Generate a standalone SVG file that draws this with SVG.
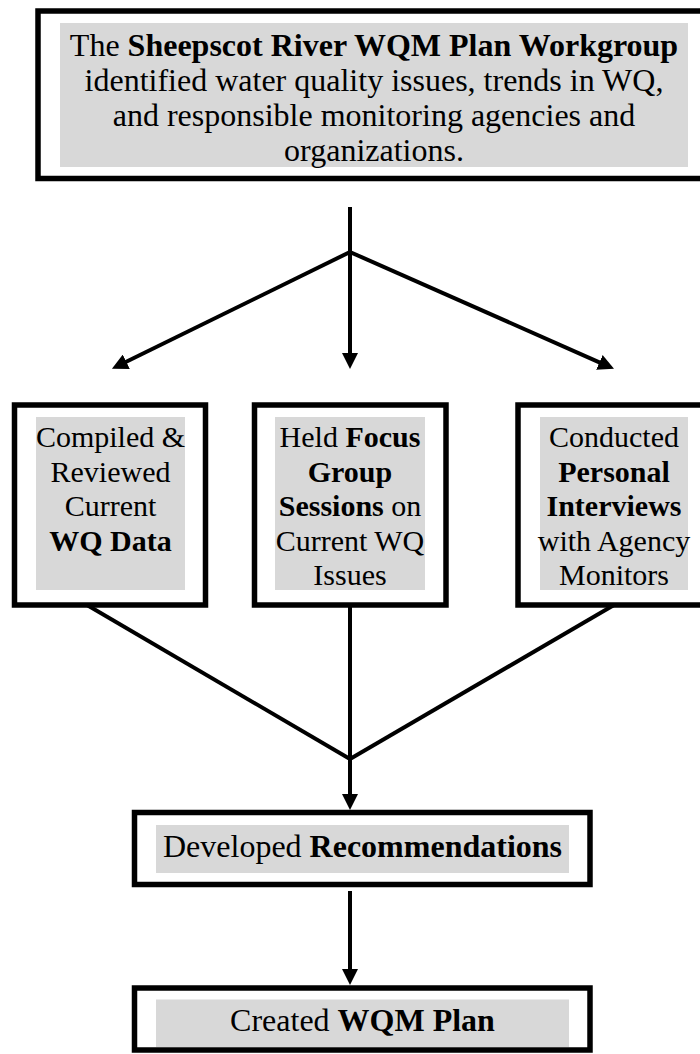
<svg xmlns="http://www.w3.org/2000/svg" width="700" height="1054" viewBox="0 0 700 1054">
<style>
.box{fill:#fff;stroke:#000;stroke-width:5.5}
.hl{fill:#d8d8d8}
.t{font-family:"Liberation Serif","Times New Roman",serif;fill:#000;text-anchor:middle}
.t32{font-size:32px}
.t30{font-size:30px}
.b{font-weight:bold}
.c{stroke:#000;stroke-width:4;fill:none}
</style>
<defs>
<marker id="ah" viewBox="0 0 16 16" refX="8" refY="8" markerWidth="16" markerHeight="16" markerUnits="userSpaceOnUse" orient="auto">
<path d="M0,0 L16,8 L0,16 z" fill="#000"/>
</marker>
</defs>
<rect width="700" height="1054" fill="#fff"/>
<g id="connectors">
<line class="c" x1="350" y1="207" x2="350" y2="252"/>
<line class="c" x1="350" y1="252" x2="119.1" y2="365.3" marker-end="url(#ah)"/>
<line class="c" x1="350" y1="252" x2="350" y2="361" marker-end="url(#ah)"/>
<line class="c" x1="350" y1="252" x2="606.7" y2="365.6" marker-end="url(#ah)"/>
<line class="c" x1="87" y1="605" x2="350" y2="759"/>
<line class="c" x1="614" y1="605" x2="350" y2="759"/>
<line class="c" x1="350" y1="605" x2="350" y2="802" marker-end="url(#ah)"/>
<line class="c" x1="350" y1="891" x2="350" y2="977" marker-end="url(#ah)"/>
</g>
<g id="n-workgroup">
<rect class="box" x="38" y="11" width="675" height="167.5"/>
<rect class="hl" x="60" y="23" width="628" height="144"/>
<text class="t t32" x="374" y="56">The <tspan class="b">Sheepscot River WQM Plan Workgroup</tspan></text>
<text class="t t32" x="374" y="91">identified water quality issues, trends in WQ,</text>
<text class="t t32" x="374" y="126">and responsible monitoring agencies and</text>
<text class="t t32" x="374" y="161">organizations.</text>
</g>
<g id="n-data">
<rect class="box" x="14.5" y="405" width="191" height="200"/>
<rect class="hl" x="36" y="417" width="149" height="173"/>
<text class="t t30" x="110.5" y="447">Compiled &amp;</text>
<text class="t t30" x="110.5" y="481.5">Reviewed</text>
<text class="t t30" x="110.5" y="516">Current</text>
<text class="t t30 b" x="110.5" y="550.5">WQ Data</text>
</g>
<g id="n-focus">
<rect class="box" x="254.5" y="405" width="191.5" height="200"/>
<rect class="hl" x="275" y="417" width="150" height="173"/>
<text class="t t30" x="350" y="447">Held <tspan class="b">Focus</tspan></text>
<text class="t t30 b" x="350" y="481.5">Group</text>
<text class="t t30" x="350" y="516"><tspan class="b">Sessions</tspan> on</text>
<text class="t t30" x="350" y="550.5">Current WQ</text>
<text class="t t30" x="350" y="585">Issues</text>
</g>
<g id="n-interviews">
<rect class="box" x="518" y="405" width="195" height="200"/>
<rect class="hl" x="540" y="417" width="148" height="173"/>
<text class="t t30" x="614" y="447">Conducted</text>
<text class="t t30 b" x="614" y="481.5">Personal</text>
<text class="t t30 b" x="614" y="516">Interviews</text>
<text class="t t30" x="614" y="550.5">with Agency</text>
<text class="t t30" x="614" y="585">Monitors</text>
</g>
<g id="n-recommendations">
<rect class="box" x="134.5" y="812.5" width="455.5" height="72"/>
<rect class="hl" x="156" y="825" width="413" height="48"/>
<text class="t t32" x="362.5" y="857">Developed <tspan class="b">Recommendations</tspan></text>
</g>
<g id="n-plan">
<rect class="box" x="134.5" y="988" width="455.5" height="62"/>
<rect class="hl" x="156" y="999.5" width="413" height="47.5"/>
<text class="t t32" x="362.5" y="1031">Created <tspan class="b">WQM Plan</tspan></text>
</g>
</svg>
